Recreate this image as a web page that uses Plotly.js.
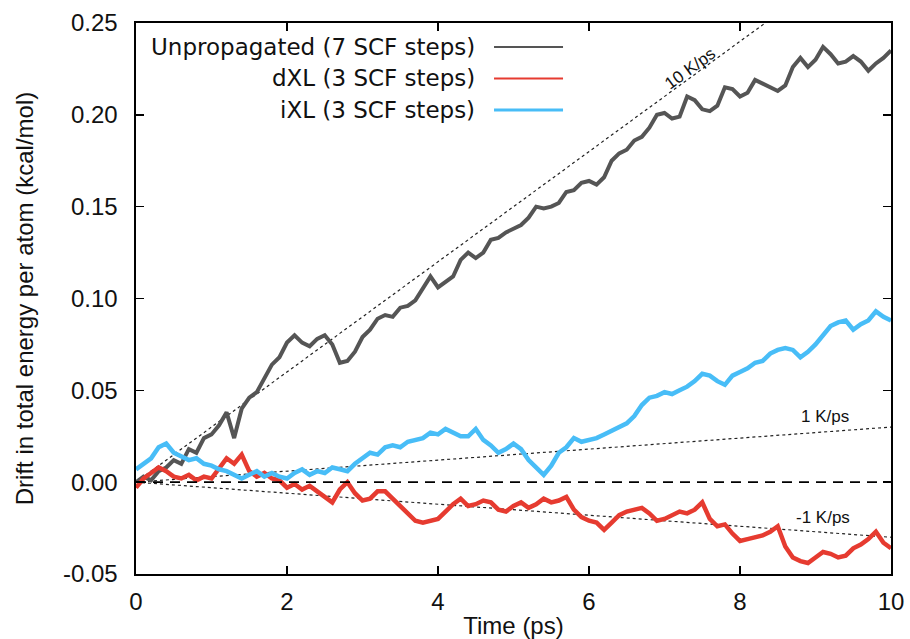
<!DOCTYPE html>
<html>
<head>
<meta charset="utf-8">
<script src="https://cdn.plot.ly/plotly-3.0.1.min.js"></script>
<style>
html,body{margin:0;padding:0;background:#fff;}
#chart{width:910px;height:639px;}
</style>
</head>
<body>
<div id="chart"></div>
<script>
// ---- data ----
const timePs = [0.0,0.1,0.2,0.3,0.4,0.5,0.6,0.7,0.8,0.9,1.0,1.1,1.2,1.3,1.4,1.5,1.6,1.7,1.8,1.9,
  2.0,2.1,2.2,2.3,2.4,2.5,2.6,2.7,2.8,2.9,3.0,3.1,3.2,3.3,3.4,3.5,3.6,3.7,3.8,3.9,
  4.0,4.1,4.2,4.3,4.4,4.5,4.6,4.7,4.8,4.9,5.0,5.1,5.2,5.3,5.4,5.5,5.6,5.7,5.8,5.9,
  6.0,6.1,6.2,6.3,6.4,6.5,6.6,6.7,6.8,6.9,7.0,7.1,7.2,7.3,7.4,7.5,7.6,7.7,7.8,7.9,
  8.0,8.1,8.2,8.3,8.4,8.5,8.6,8.7,8.8,8.9,9.0,9.1,9.2,9.3,9.4,9.5,9.6,9.7,9.8,9.9,10.0];

const unpropagated = [0.000,0.003,0.001,0.006,0.008,0.012,0.010,0.018,0.016,0.024,
  0.026,0.031,0.038,0.024,0.040,0.046,0.049,0.056,0.064,0.068,
  0.076,0.080,0.076,0.074,0.078,0.080,0.075,0.065,0.066,0.071,
  0.079,0.083,0.089,0.091,0.090,0.095,0.096,0.099,0.106,0.112,
  0.106,0.109,0.112,0.121,0.125,0.122,0.125,0.132,0.133,0.136,
  0.138,0.140,0.144,0.150,0.149,0.150,0.152,0.158,0.159,0.163,
  0.164,0.162,0.166,0.175,0.179,0.181,0.186,0.188,0.193,0.200,
  0.201,0.198,0.199,0.210,0.208,0.203,0.202,0.205,0.215,0.214,
  0.210,0.212,0.219,0.217,0.215,0.213,0.216,0.226,0.231,0.226,
  0.230,0.237,0.233,0.228,0.229,0.232,0.229,0.224,0.228,0.231,0.235];

const dXL = [-0.003,0.002,0.005,0.008,0.006,0.003,0.002,0.004,0.001,0.003,
  0.002,0.008,0.013,0.010,0.015,0.006,0.003,0.005,0.002,0.001,
  -0.003,-0.001,-0.004,-0.002,-0.005,-0.008,-0.011,-0.004,0.000,-0.006,
  -0.010,-0.009,-0.005,-0.005,-0.009,-0.013,-0.017,-0.021,-0.022,-0.021,
  -0.020,-0.016,-0.012,-0.009,-0.013,-0.012,-0.010,-0.011,-0.015,-0.016,
  -0.013,-0.011,-0.014,-0.012,-0.009,-0.011,-0.010,-0.008,-0.015,-0.019,
  -0.021,-0.022,-0.026,-0.022,-0.018,-0.016,-0.015,-0.014,-0.017,-0.021,
  -0.020,-0.018,-0.016,-0.017,-0.015,-0.011,-0.020,-0.024,-0.023,-0.028,
  -0.032,-0.031,-0.030,-0.029,-0.027,-0.024,-0.035,-0.041,-0.043,-0.044,
  -0.041,-0.038,-0.039,-0.041,-0.040,-0.036,-0.034,-0.031,-0.027,-0.033,-0.036];

const iXL = [0.007,0.010,0.013,0.019,0.021,0.016,0.014,0.012,0.013,0.010,
  0.009,0.007,0.006,0.004,0.002,0.004,0.006,0.003,0.005,0.003,
  0.002,0.005,0.007,0.004,0.006,0.005,0.008,0.007,0.006,0.010,
  0.013,0.016,0.015,0.019,0.020,0.019,0.022,0.023,0.024,0.027,
  0.026,0.029,0.027,0.025,0.025,0.029,0.023,0.020,0.016,0.018,
  0.021,0.018,0.012,0.008,0.004,0.009,0.016,0.019,0.024,0.022,
  0.023,0.024,0.026,0.028,0.030,0.032,0.036,0.042,0.046,0.047,
  0.049,0.048,0.050,0.052,0.055,0.059,0.058,0.055,0.053,0.058,
  0.060,0.062,0.065,0.066,0.070,0.072,0.073,0.072,0.068,0.071,
  0.075,0.080,0.085,0.087,0.088,0.083,0.086,0.088,0.093,0.090,0.088];

const seriesNames = ['Unpropagated (7 SCF steps)', 'dXL (3 SCF steps)', 'iXL (3 SCF steps)'];
const seriesColors = ['#555555', '#e63b30', '#48bdf7'];

// reference drift-rate lines (endpoints)
const refX = [0, 10];
const ref10 = [0, 0.30];
const ref1 = [0, 0.03];
const refM1 = [0, -0.03];
const refLabels = ['10 K/ps', '1 K/ps', '-1 K/ps'];

const xTickVals = [0, 2, 4, 6, 8, 10];
const xTickText = ['0', '2', '4', '6', '8', '10'];
const yTickVals = [-0.05, 0, 0.05, 0.10, 0.15, 0.20, 0.25];
const yTickText = ['-0.05', '0.00', '0.05', '0.10', '0.15', '0.20', '0.25'];

// ---- traces ----
const FONT = 'Liberation Sans, Arial, Helvetica, sans-serif';
const LEGFONT = 'DejaVu Sans, Liberation Sans, sans-serif';
const dotted = {color: '#222', width: 1.2, dash: 'dot'};

const traces = [
  {x: refX, y: ref10, mode: 'lines', line: dotted, hoverinfo: 'skip', showlegend: false},
  {x: refX, y: ref1, mode: 'lines', line: dotted, hoverinfo: 'skip', showlegend: false},
  {x: refX, y: refM1, mode: 'lines', line: dotted, hoverinfo: 'skip', showlegend: false},
  {x: timePs, y: unpropagated, name: seriesNames[0], mode: 'lines', line: {color: seriesColors[0], width: 4}},
  {x: timePs, y: dXL, name: seriesNames[1], mode: 'lines', line: {color: seriesColors[1], width: 4.5}},
  {x: timePs, y: iXL, name: seriesNames[2], mode: 'lines', line: {color: seriesColors[2], width: 4.5}}
];

// manual gnuplot-style legend (text right, sample line to the right)
const legendY = [0.9564, 0.8993, 0.8421];
const annotations = [];
const shapes = [
  {type: 'line', xref: 'paper', x0: 0, x1: 1, yref: 'y', y0: 0, y1: 0,
   line: {color: '#000', width: 1.6, dash: '10px,7px'}}
];
seriesNames.forEach((n, i) => {
  annotations.push({xref: 'paper', yref: 'paper', x: 0.4517, y: legendY[i], text: n,
    showarrow: false, xanchor: 'right', yanchor: 'middle', font: {family: LEGFONT, size: 23, color: '#111'}});
  shapes.push({type: 'line', xref: 'paper', yref: 'paper', x0: 0.4742, x1: 0.5656, y0: legendY[i], y1: legendY[i],
    line: {color: seriesColors[i], width: i === 2 ? 3 : 2}});
});
annotations.push({x: 7.34, y: 0.2255, text: refLabels[0], showarrow: false, textangle: -36,
  font: {family: FONT, size: 17, color: '#111'}});
annotations.push({x: 9.13, y: 0.0355, text: refLabels[1], showarrow: false,
  font: {family: FONT, size: 17, color: '#111'}});
annotations.push({x: 9.1, y: -0.0195, text: refLabels[2], showarrow: false,
  font: {family: FONT, size: 17, color: '#111'}});

const axisCommon = {
  showgrid: false, zeroline: false, showline: true, linecolor: '#000', linewidth: 1.6,
  ticks: 'inside', ticklen: 8, tickwidth: 1.4, tickcolor: '#000', mirror: 'ticks',
  tickfont: {family: FONT, size: 24, color: '#111'}
};

const layout = {
  width: 910, height: 639,
  margin: {l: 136, r: 19, t: 23, b: 65},
  paper_bgcolor: '#fff', plot_bgcolor: '#fff',
  showlegend: false,
  xaxis: Object.assign({}, axisCommon, {
    range: [0, 10], tickvals: xTickVals, ticktext: xTickText, ticklabelstandoff: 6,
    title: {text: 'Time (ps)', font: {family: FONT, size: 24, color: '#111'}, standoff: 3}
  }),
  yaxis: Object.assign({}, axisCommon, {
    range: [-0.05, 0.25], tickvals: yTickVals, ticktext: yTickText, ticklabelstandoff: 12,
    title: {text: 'Drift in total energy per atom (kcal/mol)', font: {family: FONT, size: 24, color: '#111'}, standoff: 22}
  }),
  annotations: annotations,
  shapes: shapes
};

Plotly.newPlot('chart', traces, layout, {staticPlot: true, displayModeBar: false});
</script>
</body>
</html>
